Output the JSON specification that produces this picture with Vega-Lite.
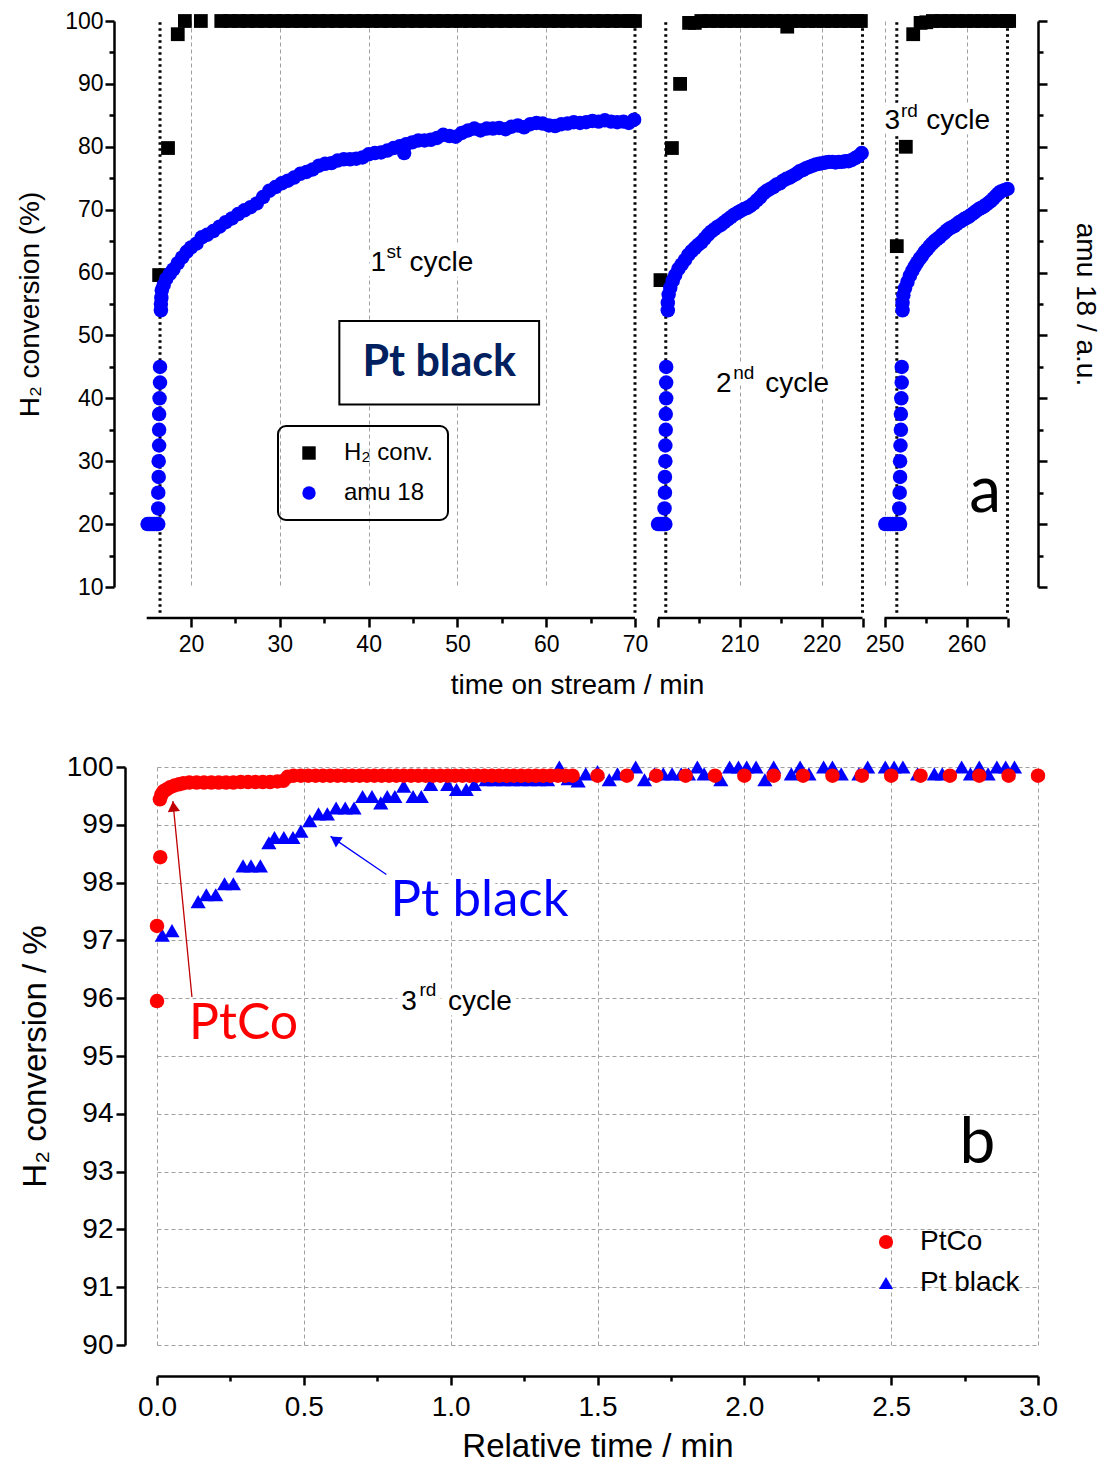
{
"$schema":"https://vega.github.io/schema/vega-lite/v6.json",
"background":"white",
"padding":{"left":16,"top":10,"right":4,"bottom":0},
"columns":1,
"spacing":54,
"resolve":{"scale":{"x":"independent","y":"independent","color":"independent","shape":"independent"},"legend":{"color":"independent","shape":"independent"}},
"config":{
 "view":{"stroke":null},
 "font":"Liberation Sans",
 "axis":{"domainColor":"#000","domainWidth":2.5,"tickColor":"#000","tickWidth":2.5,"gridColor":"#a0a0a0","gridDash":[4,3],"gridWidth":1,"labelColor":"#000","titleColor":"#000","labelFont":"Liberation Sans","titleFont":"Liberation Sans","titleFontWeight":"normal","labelOverlap":false,"labelFlush":false,"labelBound":false},
 "legend":{"labelFont":"Liberation Sans","labelColor":"#000","strokeWidth":2},
 "text":{"font":"Liberation Sans"}
},
"concat":[
{
 "width":881,"height":566,
 "resolve":{"axis":{"y":"independent"}},
 "layer":[
  {
   "data":{"values":[{"t":16.5,"v":5.9,"v2":100},{"t":70,"v":5.9,"v2":100},{"t":200.95,"v":5.9,"v2":100},{"t":225,"v":5.9,"v2":100},{"t":251.5,"v":5.9,"v2":100},{"t":265,"v":5.9,"v2":100}]},
   "mark":{"type":"rule","color":"#000","strokeWidth":3,"strokeDash":[2.5,3.5]},
   "encoding":{
    "x":{"field":"t","type":"quantitative","scale":{"domain":[15,70,200,225,250,265],"range":[-10.3,478,501,705.5,727.5,850.5],"nice":false,"zero":false}},
    "y":{"field":"v","type":"quantitative","scale":{"domain":[10,100],"nice":false,"zero":false},"axis":null},
    "y2":{"field":"v2"}
   }
  },
  {
   "data":{"values":[{"t":15,"t2":70,"v":5.07},{"t":200,"t2":225,"v":5.07},{"t":250,"t2":265,"v":5.07}]},
   "mark":{"type":"rule","color":"#000","strokeWidth":2.5},
   "encoding":{
    "x":{"field":"t","type":"quantitative","scale":{"domain":[15,70,200,225,250,265],"range":[-10.3,478,501,705.5,727.5,850.5],"nice":false,"zero":false}},
    "x2":{"field":"t2"},
    "y":{"field":"v","type":"quantitative","scale":{"domain":[10,100],"nice":false,"zero":false},
     "axis":{"orient":"right","values":[10,15,20,25,30,35,40,45,50,55,60,65,70,75,80,85,90,95,100],"labels":false,"grid":false,
      "tickSize":{"condition":{"test":"datum.value % 10 === 0","value":9},"value":5},
      "title":"amu 18 / a.u.","titleFontSize":28,"titlePadding":22}}
   }
  },
  {
   "data":{"values":[{"t":40.2,"v":60.3,"label":"1"},{"t":44.6,"v":60.3,"label":"cycle"},{"t":207.1,"v":41.0,"label":"2"},{"t":213.1,"v":41.0,"label":"cycle"},{"t":249.9,"v":82.8,"label":"3"},{"t":255.1,"v":82.8,"label":"cycle"}]},
   "mark":{"type":"text","fontSize":28,"color":"white","stroke":"white","strokeWidth":12,"strokeJoin":"round","align":"left","baseline":"alphabetic"},
   "encoding":{
    "x":{"field":"t","type":"quantitative","scale":{"domain":[15,70,200,225,250,265],"range":[-10.3,478,501,705.5,727.5,850.5],"nice":false,"zero":false}},
    "y":{"field":"v","type":"quantitative","scale":{"domain":[10,100],"nice":false,"zero":false},"axis":null},
    "text":{"field":"label"}
   }
  },
  {
   "data":{"values":[{"t":42.0,"v":62.3,"label":"st"},{"t":209.2,"v":43.0,"label":"nd"},{"t":252.0,"v":84.8,"label":"rd"}]},
   "mark":{"type":"text","fontSize":19,"color":"white","stroke":"white","strokeWidth":12,"strokeJoin":"round","align":"left","baseline":"alphabetic"},
   "encoding":{
    "x":{"field":"t","type":"quantitative","scale":{"domain":[15,70,200,225,250,265],"range":[-10.3,478,501,705.5,727.5,850.5],"nice":false,"zero":false}},
    "y":{"field":"v","type":"quantitative","scale":{"domain":[10,100],"nice":false,"zero":false},"axis":null},
    "text":{"field":"label"}
   }
  },
  {
   "data":{"values":[{"t":36.7,"t2":59.2,"v":52.3,"v2":39.0}]},
   "mark":{"type":"rect","fill":"white","stroke":"#000","strokeWidth":2},
   "encoding":{
    "x":{"field":"t","type":"quantitative","scale":{"domain":[15,70,200,225,250,265],"range":[-10.3,478,501,705.5,727.5,850.5],"nice":false,"zero":false}},
    "x2":{"field":"t2"},
    "y":{"field":"v","type":"quantitative","scale":{"domain":[10,100],"nice":false,"zero":false},"axis":null},
    "y2":{"field":"v2"}
   }
  },
  {
   "data":{"values":[
    {"t":16.4,"v":59.6},{"t":17.4,"v":79.8},{"t":18.5,"v":97.9},{"t":19.3,"v":100},{"t":21.1,"v":100},
    {"t":23.4,"v":100},{"t":24.4,"v":100},{"t":25.4,"v":100},{"t":26.4,"v":100},{"t":27.4,"v":100},{"t":28.4,"v":100},{"t":29.4,"v":100},{"t":30.4,"v":100},{"t":31.4,"v":100},{"t":32.4,"v":100},
    {"t":33.4,"v":100},{"t":34.4,"v":100},{"t":35.4,"v":100},{"t":36.4,"v":100},{"t":37.4,"v":100},{"t":38.4,"v":100},{"t":39.4,"v":100},{"t":40.4,"v":100},{"t":41.4,"v":100},{"t":42.4,"v":100},
    {"t":43.4,"v":100},{"t":44.4,"v":100},{"t":45.4,"v":100},{"t":46.4,"v":100},{"t":47.4,"v":100},{"t":48.4,"v":100},{"t":49.4,"v":100},{"t":50.4,"v":100},{"t":51.4,"v":100},{"t":52.4,"v":100},
    {"t":53.4,"v":100},{"t":54.4,"v":100},{"t":55.4,"v":100},{"t":56.4,"v":100},{"t":57.4,"v":100},{"t":58.4,"v":100},{"t":59.4,"v":100},{"t":60.4,"v":100},{"t":61.4,"v":100},{"t":62.4,"v":100},
    {"t":63.4,"v":100},{"t":64.4,"v":100},{"t":65.4,"v":100},{"t":66.4,"v":100},{"t":67.4,"v":100},{"t":68.4,"v":100},{"t":69.4,"v":100},{"t":70.0,"v":100},
    {"t":200.3,"v":58.8},{"t":201.7,"v":79.8},{"t":202.7,"v":90.0},{"t":203.8,"v":99.7},{"t":204.5,"v":99.7},{"t":205.3,"v":100},{"t":206.3,"v":100},{"t":207.3,"v":100},{"t":208.3,"v":100},{"t":209.3,"v":100},
    {"t":210.3,"v":100},{"t":211.3,"v":100},{"t":212.3,"v":100},{"t":213.3,"v":100},{"t":214.3,"v":100},{"t":215.3,"v":100},{"t":215.8,"v":99.1},{"t":216.3,"v":100},{"t":217.3,"v":100},{"t":218.3,"v":100},
    {"t":219.3,"v":100},{"t":220.3,"v":100},{"t":221.3,"v":100},{"t":222.3,"v":100},{"t":223.3,"v":100},{"t":224.3,"v":100},{"t":224.8,"v":100},
    {"t":251.5,"v":64.2},{"t":252.6,"v":80.0},{"t":253.5,"v":97.9},{"t":254.4,"v":99.7},{"t":255.1,"v":99.8},{"t":255.9,"v":100},{"t":256.9,"v":100},{"t":257.9,"v":100},{"t":258.9,"v":100},{"t":259.9,"v":100},
    {"t":260.9,"v":100},{"t":261.9,"v":100},{"t":262.9,"v":100},{"t":263.9,"v":100},{"t":264.9,"v":100},{"t":265.2,"v":100}
   ]},
   "mark":{"type":"point","filled":true,"size":190,"opacity":1,"strokeWidth":0},
   "encoding":{
    "x":{"field":"t","type":"quantitative","scale":{"domain":[15,70,200,225,250,265],"range":[-10.3,478,501,705.5,727.5,850.5],"nice":false,"zero":false},
     "axis":{"values":[20,25,30,35,40,45,50,55,60,65,70,200,205,210,215,220,225,250,255,260,265],
      "labelExpr":"indexof([20,30,40,50,60,70,210,220,250,260], datum.value) >= 0 ? datum.label : ''",
      "offset":31,"domain":false,"grid":true,
      "gridOpacity":{"condition":{"test":"indexof([20,30,40,50,60,210,220,250,260], datum.value) >= 0","value":1},"value":0},
      "tickSize":{"condition":{"test":"indexof([25,35,45,55,65,205,215,255], datum.value) >= 0","value":5},"value":9},
      "labelFontSize":23,"labelPadding":6,"title":"time on stream / min","titleFontSize":28,"titlePadding":15}},
    "y":{"field":"v","type":"quantitative","scale":{"domain":[10,100],"nice":false,"zero":false},
     "axis":{"orient":"left","offset":43,"values":[10,15,20,25,30,35,40,45,50,55,60,65,70,75,80,85,90,95,100],
      "labelExpr":"datum.value % 10 === 0 ? datum.label : ''",
      "gridOpacity":{"condition":{"test":"datum.value % 10 === 0","value":1},"value":0},
      "tickSize":{"condition":{"test":"datum.value % 10 === 0","value":9},"value":5},
      "labelFontSize":23,"labelPadding":2,"title":"H₂ conversion (%)","titleFontSize":28,"titlePadding":20}},
    "color":{"datum":"H₂ conv.","type":"nominal","scale":{"domain":["H₂ conv.","amu 18"],"range":["#000000","#0000ff"]},
     "legend":{"orient":"none","legendX":121,"legendY":405,"title":null,"labelFontSize":24,"symbolSize":180,"padding":15,"rowPadding":16,"labelOffset":23,"symbolOffset":4,"strokeColor":"#000","cornerRadius":8}},
    "shape":{"datum":"H₂ conv.","type":"nominal","scale":{"domain":["H₂ conv.","amu 18"],"range":["square","circle"]}}
   }
  },
  {
   "data":{"values":[
    {"t":15.1,"v":20},{"t":15.35,"v":20},{"t":15.6,"v":20},{"t":15.85,"v":20},{"t":16.1,"v":20},{"t":16.3,"v":20},
    {"t":16.3,"v":22.5},{"t":16.3,"v":25},{"t":16.35,"v":27.5},{"t":16.35,"v":30},{"t":16.4,"v":32.5},{"t":16.4,"v":35},{"t":16.4,"v":37.5},{"t":16.45,"v":40},{"t":16.5,"v":42.5},{"t":16.5,"v":45},
    {"t":16.6,"v":54.0},{"t":16.6,"v":55.0},{"t":16.65,"v":56.0},{"t":16.7,"v":57.2},{"t":16.9,"v":58.0},{"t":17.2,"v":59.0},{"t":17.6,"v":59.8},{"t":18.0,"v":60.5},{"t":18.5,"v":61.5},{"t":19.0,"v":62.4},
    {"t":19.5,"v":63.3},{"t":20.0,"v":64.0},{"t":20.6,"v":64.6},{"t":21.2,"v":65.6},{"t":21.8,"v":66.0},{"t":22.5,"v":66.6},{"t":23.2,"v":67.3},{"t":23.9,"v":68.0},{"t":24.6,"v":68.6},{"t":25.3,"v":69.3},
    {"t":26.0,"v":69.9},{"t":26.7,"v":70.4},{"t":27.4,"v":71.0},{"t":28.1,"v":72.0},{"t":28.8,"v":73.0},{"t":29.5,"v":73.6},{"t":30.2,"v":74.2},{"t":30.9,"v":74.6},{"t":31.6,"v":75.1},{"t":32.3,"v":75.7},
    {"t":33.0,"v":76.0},{"t":33.7,"v":76.4},{"t":34.4,"v":77.0},{"t":35.1,"v":77.3},{"t":35.8,"v":77.4},{"t":36.5,"v":77.8},{"t":37.2,"v":78.0},{"t":37.9,"v":78.0},{"t":38.6,"v":78.1},{"t":39.3,"v":78.3},
    {"t":40.0,"v":78.8},{"t":40.7,"v":79.0},{"t":41.4,"v":79.1},{"t":42.1,"v":79.4},{"t":42.8,"v":79.8},{"t":43.5,"v":80.1},{"t":44.0,"v":79.0},{"t":44.2,"v":80.4},{"t":44.9,"v":80.7},{"t":45.6,"v":81.0},{"t":46.3,"v":81.0},
    {"t":47.0,"v":81.1},{"t":47.7,"v":81.4},{"t":48.4,"v":81.9},{"t":49.1,"v":81.7},{"t":49.8,"v":81.6},{"t":50.5,"v":82.2},{"t":51.2,"v":82.6},{"t":51.9,"v":82.9},{"t":52.6,"v":82.6},{"t":53.3,"v":82.9},
    {"t":54.0,"v":82.9},{"t":54.7,"v":83.0},{"t":55.4,"v":82.8},{"t":56.1,"v":83.2},{"t":56.8,"v":83.4},{"t":57.5,"v":83.1},{"t":58.2,"v":83.6},{"t":58.9,"v":83.8},{"t":59.6,"v":83.7},{"t":60.3,"v":83.4},
    {"t":61.0,"v":83.3},{"t":61.7,"v":83.6},{"t":62.4,"v":83.7},{"t":63.1,"v":83.9},{"t":63.8,"v":83.8},{"t":64.5,"v":83.9},{"t":65.2,"v":84.1},{"t":65.9,"v":84.0},{"t":66.6,"v":84.2},{"t":67.3,"v":84.0},
    {"t":68.0,"v":83.9},{"t":68.7,"v":84.0},{"t":69.3,"v":83.8},{"t":69.9,"v":84.3},
    {"t":200.0,"v":20},{"t":200.25,"v":20},{"t":200.5,"v":20},{"t":200.75,"v":20},{"t":200.9,"v":20},
    {"t":200.8,"v":22.5},{"t":200.85,"v":25},{"t":200.85,"v":27.5},{"t":200.9,"v":30},{"t":200.9,"v":32.5},{"t":200.95,"v":35},{"t":200.95,"v":37.5},{"t":201.0,"v":40},{"t":201.0,"v":42.5},{"t":201.0,"v":45},
    {"t":201.2,"v":54.0},{"t":201.2,"v":55.2},{"t":201.3,"v":56.5},{"t":201.5,"v":57.6},{"t":201.8,"v":58.7},{"t":202.1,"v":59.6},{"t":202.5,"v":60.6},{"t":202.9,"v":61.3},{"t":203.3,"v":62.0},{"t":203.7,"v":62.8},
    {"t":204.1,"v":63.4},{"t":204.5,"v":63.9},{"t":204.9,"v":64.4},{"t":205.3,"v":64.8},{"t":205.7,"v":65.4},{"t":206.1,"v":66.0},{"t":206.5,"v":66.5},{"t":206.9,"v":66.9},{"t":207.3,"v":67.3},{"t":207.7,"v":67.6},
    {"t":208.1,"v":68.0},{"t":208.5,"v":68.4},{"t":208.9,"v":68.8},{"t":209.3,"v":69.2},{"t":209.7,"v":69.5},{"t":210.1,"v":69.8},{"t":210.5,"v":70.1},{"t":210.9,"v":70.3},{"t":211.3,"v":70.6},{"t":211.7,"v":71.0},
    {"t":212.1,"v":71.5},{"t":212.5,"v":72.0},{"t":212.9,"v":72.6},{"t":213.3,"v":73.0},{"t":213.7,"v":73.3},{"t":214.1,"v":73.6},{"t":214.5,"v":74.0},{"t":214.9,"v":74.2},{"t":215.3,"v":74.6},{"t":215.7,"v":74.9},
    {"t":216.1,"v":75.1},{"t":216.5,"v":75.4},{"t":216.9,"v":75.7},{"t":217.3,"v":76.1},{"t":217.7,"v":76.3},{"t":218.1,"v":76.6},{"t":218.5,"v":76.8},{"t":218.9,"v":77.0},{"t":219.3,"v":77.2},{"t":219.7,"v":77.3},
    {"t":220.1,"v":77.4},{"t":220.5,"v":77.5},{"t":220.9,"v":77.6},{"t":221.3,"v":77.6},{"t":221.7,"v":77.5},{"t":222.1,"v":77.6},{"t":222.5,"v":77.6},{"t":222.9,"v":77.7},{"t":223.3,"v":77.7},{"t":223.7,"v":77.9},
    {"t":224.1,"v":78.2},{"t":224.5,"v":78.5},{"t":224.9,"v":79.0},
    {"t":250.1,"v":20},{"t":250.4,"v":20},{"t":250.7,"v":20},{"t":251.0,"v":20},{"t":251.3,"v":20},{"t":251.6,"v":20},{"t":251.9,"v":20},
    {"t":251.8,"v":22.5},{"t":251.85,"v":25},{"t":251.9,"v":27.5},{"t":251.9,"v":30},{"t":251.95,"v":32.5},{"t":252.0,"v":35},{"t":252.0,"v":37.5},{"t":252.05,"v":40},{"t":252.1,"v":42.5},{"t":252.1,"v":45},
    {"t":252.2,"v":54.0},{"t":252.2,"v":55.2},{"t":252.3,"v":56.4},{"t":252.5,"v":57.5},{"t":252.8,"v":58.5},{"t":253.1,"v":59.5},{"t":253.4,"v":60.3},{"t":253.7,"v":61.0},{"t":254.0,"v":61.6},{"t":254.3,"v":62.2},
    {"t":254.6,"v":62.7},{"t":254.9,"v":63.3},{"t":255.2,"v":63.7},{"t":255.5,"v":64.2},{"t":255.8,"v":64.6},{"t":256.1,"v":65.0},{"t":256.4,"v":65.3},{"t":256.7,"v":65.6},{"t":257.0,"v":66.0},{"t":257.3,"v":66.3},
    {"t":257.6,"v":66.7},{"t":257.9,"v":67.0},{"t":258.2,"v":67.2},{"t":258.5,"v":67.4},{"t":258.8,"v":67.7},{"t":259.1,"v":68.0},{"t":259.4,"v":68.2},{"t":259.7,"v":68.5},{"t":260.0,"v":68.7},{"t":260.3,"v":68.9},
    {"t":260.6,"v":69.2},{"t":260.9,"v":69.5},{"t":261.2,"v":69.8},{"t":261.5,"v":70.1},{"t":261.8,"v":70.3},{"t":262.1,"v":70.5},{"t":262.4,"v":70.8},{"t":262.7,"v":71.1},{"t":263.0,"v":71.4},{"t":263.3,"v":71.8},
    {"t":263.6,"v":72.2},{"t":263.9,"v":72.6},{"t":264.2,"v":72.9},{"t":264.6,"v":73.1},{"t":265.0,"v":73.3}
   ]},
   "mark":{"type":"point","filled":true,"size":210,"opacity":1,"strokeWidth":0},
   "encoding":{
    "x":{"field":"t","type":"quantitative","scale":{"domain":[15,70,200,225,250,265],"range":[-10.3,478,501,705.5,727.5,850.5],"nice":false,"zero":false}},
    "y":{"field":"v","type":"quantitative","scale":{"domain":[10,100],"nice":false,"zero":false},"axis":null},
    "color":{"datum":"amu 18","type":"nominal"},
    "shape":{"datum":"amu 18","type":"nominal"}
   }
  },
  {
   "data":{"values":[{"t":47.95,"v":45.65,"label":"Pt black"}]},
   "mark":{"type":"text","font":"Lato","fontWeight":"bold","fontSize":43,"color":"#002060","align":"center","baseline":"middle"},
   "encoding":{
    "x":{"field":"t","type":"quantitative","scale":{"domain":[15,70,200,225,250,265],"range":[-10.3,478,501,705.5,727.5,850.5],"nice":false,"zero":false}},
    "y":{"field":"v","type":"quantitative","scale":{"domain":[10,100],"nice":false,"zero":false},"axis":null},
    "text":{"field":"label"}
   }
  },
  {
   "data":{"values":[{"t":40.2,"v":60.3,"label":"1"},{"t":44.6,"v":60.3,"label":"cycle"},{"t":207.1,"v":41.0,"label":"2"},{"t":213.1,"v":41.0,"label":"cycle"},{"t":249.9,"v":82.8,"label":"3"},{"t":255.1,"v":82.8,"label":"cycle"}]},
   "mark":{"type":"text","fontSize":28,"color":"#000","align":"left","baseline":"alphabetic"},
   "encoding":{
    "x":{"field":"t","type":"quantitative","scale":{"domain":[15,70,200,225,250,265],"range":[-10.3,478,501,705.5,727.5,850.5],"nice":false,"zero":false}},
    "y":{"field":"v","type":"quantitative","scale":{"domain":[10,100],"nice":false,"zero":false},"axis":null},
    "text":{"field":"label"}
   }
  },
  {
   "data":{"values":[{"t":42.0,"v":62.3,"label":"st"},{"t":209.2,"v":43.0,"label":"nd"},{"t":252.0,"v":84.8,"label":"rd"}]},
   "mark":{"type":"text","fontSize":19,"color":"#000","align":"left","baseline":"alphabetic"},
   "encoding":{
    "x":{"field":"t","type":"quantitative","scale":{"domain":[15,70,200,225,250,265],"range":[-10.3,478,501,705.5,727.5,850.5],"nice":false,"zero":false}},
    "y":{"field":"v","type":"quantitative","scale":{"domain":[10,100],"nice":false,"zero":false},"axis":null},
    "text":{"field":"label"}
   }
  },
  {
   "data":{"values":[{"t":260.35,"v":21.9,"label":"a"}]},
   "mark":{"type":"text","font":"Lato","fontSize":64,"color":"#000","align":"left","baseline":"alphabetic"},
   "encoding":{
    "x":{"field":"t","type":"quantitative","scale":{"domain":[15,70,200,225,250,265],"range":[-10.3,478,501,705.5,727.5,850.5],"nice":false,"zero":false}},
    "y":{"field":"v","type":"quantitative","scale":{"domain":[10,100],"nice":false,"zero":false},"axis":null},
    "text":{"field":"label"}
   }
  }
 ]
},
{
 "width":881,"height":578,
 "layer":[
  {
   "data":{"values":[{"t":0.832,"v":95.79,"label":"3"},{"t":0.991,"v":95.79,"label":"cycle"},{"t":0.795,"v":97.43,"label":"Pt black","big":true}]},
   "transform":[{"filter":"!datum.big"}],
   "mark":{"type":"text","fontSize":28,"color":"white","stroke":"white","strokeWidth":12,"strokeJoin":"round","align":"left","baseline":"alphabetic"},
   "encoding":{
    "x":{"field":"t","type":"quantitative","scale":{"domain":[0,3],"nice":false,"zero":false}},
    "y":{"field":"v","type":"quantitative","scale":{"domain":[90,100],"nice":false,"zero":false}},
    "text":{"field":"label"}
   }
  },
  {
   "data":{"values":[{"t":0.894,"v":96.03,"label":"rd"}]},
   "mark":{"type":"text","fontSize":19,"color":"white","stroke":"white","strokeWidth":12,"strokeJoin":"round","align":"left","baseline":"alphabetic"},
   "encoding":{
    "x":{"field":"t","type":"quantitative","scale":{"domain":[0,3],"nice":false,"zero":false}},
    "y":{"field":"v","type":"quantitative","scale":{"domain":[90,100],"nice":false,"zero":false}},
    "text":{"field":"label"}
   }
  },
  {
   "data":{"values":[{"t":0.795,"v":97.43,"label":"Pt black"}]},
   "mark":{"type":"text","font":"Lato","fontSize":51,"color":"white","stroke":"white","strokeWidth":12,"strokeJoin":"round","align":"left","baseline":"alphabetic"},
   "encoding":{
    "x":{"field":"t","type":"quantitative","scale":{"domain":[0,3],"nice":false,"zero":false}},
    "y":{"field":"v","type":"quantitative","scale":{"domain":[90,100],"nice":false,"zero":false}},
    "text":{"field":"label"}
   }
  },
  {
   "data":{"values":[
    {"t":0.018,"v":97.09},{"t":0.051,"v":97.17},{"t":0.14,"v":97.67},{"t":0.168,"v":97.79},{"t":0.2,"v":97.79},{"t":0.23,"v":97.98},{"t":0.26,"v":97.98},{"t":0.293,"v":98.29},{"t":0.32,"v":98.29},{"t":0.352,"v":98.29},
    {"t":0.381,"v":98.69},{"t":0.40,"v":98.78},{"t":0.432,"v":98.78},{"t":0.463,"v":98.78},{"t":0.49,"v":98.89},{"t":0.52,"v":99.07},{"t":0.55,"v":99.19},{"t":0.58,"v":99.19},{"t":0.61,"v":99.29},{"t":0.641,"v":99.29},
    {"t":0.671,"v":99.29},{"t":0.70,"v":99.49},{"t":0.732,"v":99.49},{"t":0.762,"v":99.38},{"t":0.784,"v":99.49},{"t":0.81,"v":99.49},{"t":0.84,"v":99.67},{"t":0.872,"v":99.49},{"t":0.90,"v":99.49},{"t":0.932,"v":99.70},
    {"t":0.99,"v":99.70},{"t":1.02,"v":99.61},{"t":1.053,"v":99.61},{"t":1.08,"v":99.70},{"t":1.12,"v":99.78},{"t":1.15,"v":99.78},{"t":1.18,"v":99.78},{"t":1.21,"v":99.78},{"t":1.24,"v":99.78},{"t":1.27,"v":99.78},
    {"t":1.30,"v":99.78},{"t":1.33,"v":99.78},{"t":1.37,"v":100.0},{"t":1.40,"v":99.80},{"t":1.434,"v":99.76},{"t":1.46,"v":99.88},{"t":1.50,"v":99.92},{"t":1.54,"v":99.78},{"t":1.568,"v":99.88},{"t":1.63,"v":100},
    {"t":1.66,"v":99.78},{"t":1.694,"v":99.88},{"t":1.724,"v":99.88},{"t":1.754,"v":99.88},{"t":1.785,"v":99.88},{"t":1.81,"v":99.88},{"t":1.84,"v":100},{"t":1.863,"v":99.88},{"t":1.92,"v":99.78},{"t":1.95,"v":100},
    {"t":1.98,"v":100},{"t":2.008,"v":100},{"t":2.04,"v":100},{"t":2.07,"v":99.78},{"t":2.10,"v":100},{"t":2.16,"v":99.88},{"t":2.19,"v":100},{"t":2.22,"v":99.88},{"t":2.27,"v":100},{"t":2.30,"v":100},
    {"t":2.33,"v":99.88},{"t":2.39,"v":99.88},{"t":2.42,"v":100},{"t":2.48,"v":100},{"t":2.51,"v":100},{"t":2.54,"v":100},{"t":2.59,"v":99.88},{"t":2.647,"v":99.88},{"t":2.674,"v":99.88},{"t":2.74,"v":100},
    {"t":2.77,"v":99.88},{"t":2.80,"v":100},{"t":2.83,"v":99.88},{"t":2.86,"v":100},{"t":2.89,"v":100},{"t":2.92,"v":100}
   ]},
   "mark":{"type":"point","filled":true,"size":230,"opacity":1,"strokeWidth":0},
   "encoding":{
    "x":{"field":"t","type":"quantitative","scale":{"domain":[0,3],"nice":false,"zero":false},
     "axis":{"values":[0,0.25,0.5,0.75,1,1.25,1.5,1.75,2,2.25,2.5,2.75,3],
      "labelExpr":"datum.value % 0.5 === 0 ? format(datum.value, '.1f') : ''",
      "offset":31,"grid":true,
      "gridOpacity":{"condition":{"test":"datum.value % 0.5 === 0","value":1},"value":0},
      "tickSize":{"condition":{"test":"datum.value % 0.5 === 0","value":9},"value":5},
      "labelFontSize":28,"labelPadding":8,"title":"Relative time / min","titleFontSize":33,"titlePadding":9}},
    "y":{"field":"v","type":"quantitative","scale":{"domain":[90,100],"nice":false,"zero":false},
     "axis":{"values":[90,90.5,91,91.5,92,92.5,93,93.5,94,94.5,95,95.5,96,96.5,97,97.5,98,98.5,99,99.5,100],
      "labelExpr":"datum.value % 1 === 0 ? format(datum.value, 'd') : ''",
      "offset":32,"grid":true,
      "gridOpacity":{"condition":{"test":"datum.value % 1 === 0","value":1},"value":0},
      "tickSize":{"condition":{"test":"datum.value % 1 === 0","value":9},"value":5},
      "labelFontSize":28,"labelPadding":3,"title":"H₂ conversion / %","titleFontSize":33,"titlePadding":14}},
    "color":{"datum":"Pt black","type":"nominal","scale":{"domain":["PtCo","Pt black"],"range":["#ff0000","#0000ff"]},
     "legend":{"orient":"none","legendX":715,"legendY":461,"title":null,"labelFontSize":28,"symbolSize":200,"padding":0,"rowPadding":13,"labelOffset":20,"symbolOffset":0}},
    "shape":{"datum":"Pt black","type":"nominal","scale":{"domain":["PtCo","Pt black"],"range":["circle","triangle-up"]}}
   }
  },
  {
   "data":{"values":[
    {"t":0.0,"v":95.95},{"t":0.0,"v":97.25},{"t":0.011,"v":98.44},{"t":0.01,"v":99.44},{"t":0.015,"v":99.52},{"t":0.022,"v":99.58},{"t":0.032,"v":99.61},{"t":0.045,"v":99.65},{"t":0.06,"v":99.68},{"t":0.075,"v":99.70},
    {"t":0.09,"v":99.72},{"t":0.11,"v":99.73},{"t":0.135,"v":99.73},{"t":0.16,"v":99.73},{"t":0.185,"v":99.73},{"t":0.21,"v":99.73},{"t":0.235,"v":99.73},{"t":0.26,"v":99.73},{"t":0.285,"v":99.74},{"t":0.31,"v":99.74},
    {"t":0.335,"v":99.74},{"t":0.36,"v":99.74},{"t":0.385,"v":99.74},{"t":0.41,"v":99.75},{"t":0.43,"v":99.76},{"t":0.445,"v":99.83},{"t":0.465,"v":99.85},{"t":0.49,"v":99.85},{"t":0.515,"v":99.85},{"t":0.54,"v":99.85},
    {"t":0.565,"v":99.85},{"t":0.59,"v":99.85},{"t":0.615,"v":99.85},{"t":0.64,"v":99.85},{"t":0.665,"v":99.85},{"t":0.69,"v":99.85},{"t":0.715,"v":99.85},{"t":0.74,"v":99.85},{"t":0.765,"v":99.85},{"t":0.79,"v":99.85},
    {"t":0.815,"v":99.85},{"t":0.84,"v":99.85},{"t":0.865,"v":99.85},{"t":0.89,"v":99.85},{"t":0.915,"v":99.85},{"t":0.94,"v":99.85},{"t":0.965,"v":99.85},{"t":0.99,"v":99.85},{"t":1.015,"v":99.85},{"t":1.04,"v":99.85},
    {"t":1.065,"v":99.85},{"t":1.09,"v":99.85},{"t":1.115,"v":99.85},{"t":1.14,"v":99.85},{"t":1.165,"v":99.85},{"t":1.19,"v":99.85},{"t":1.215,"v":99.85},{"t":1.24,"v":99.85},{"t":1.265,"v":99.85},{"t":1.29,"v":99.85},
    {"t":1.315,"v":99.85},{"t":1.34,"v":99.85},{"t":1.365,"v":99.85},{"t":1.39,"v":99.85},{"t":1.415,"v":99.85},
    {"t":1.5,"v":99.85},{"t":1.6,"v":99.85},{"t":1.7,"v":99.85},{"t":1.8,"v":99.85},{"t":1.9,"v":99.85},{"t":2.0,"v":99.85},{"t":2.1,"v":99.85},{"t":2.2,"v":99.85},{"t":2.3,"v":99.85},{"t":2.4,"v":99.85},
    {"t":2.5,"v":99.85},{"t":2.6,"v":99.85},{"t":2.7,"v":99.85},{"t":2.8,"v":99.85},{"t":2.9,"v":99.85},{"t":3.0,"v":99.85}
   ]},
   "mark":{"type":"point","filled":true,"size":210,"opacity":1,"strokeWidth":0},
   "encoding":{
    "x":{"field":"t","type":"quantitative","scale":{"domain":[0,3],"nice":false,"zero":false}},
    "y":{"field":"v","type":"quantitative","scale":{"domain":[90,100],"nice":false,"zero":false}},
    "color":{"datum":"PtCo","type":"nominal"},
    "shape":{"datum":"PtCo","type":"nominal"}
   }
  },
  {
   "data":{"values":[{"t":0.119,"v":96.02,"t2":0.054,"v2":99.41}]},
   "mark":{"type":"rule","color":"#c00000","strokeWidth":1.3},
   "encoding":{
    "x":{"field":"t","type":"quantitative","scale":{"domain":[0,3],"nice":false,"zero":false}},
    "y":{"field":"v","type":"quantitative","scale":{"domain":[90,100],"nice":false,"zero":false}},
    "x2":{"field":"t2"},"y2":{"field":"v2"}
   }
  },
  {
   "data":{"values":[{"t":0.0558,"v":99.318}]},
   "mark":{"type":"point","shape":"triangle-up","filled":true,"size":150,"color":"#c00000","opacity":1,"angle":-5.5,"strokeWidth":0},
   "encoding":{
    "x":{"field":"t","type":"quantitative","scale":{"domain":[0,3],"nice":false,"zero":false}},
    "y":{"field":"v","type":"quantitative","scale":{"domain":[90,100],"nice":false,"zero":false}}
   }
  },
  {
   "data":{"values":[{"t":0.781,"v":98.14,"t2":0.591,"v2":98.80}]},
   "mark":{"type":"rule","color":"#0000ff","strokeWidth":1.3},
   "encoding":{
    "x":{"field":"t","type":"quantitative","scale":{"domain":[0,3],"nice":false,"zero":false}},
    "y":{"field":"v","type":"quantitative","scale":{"domain":[90,100],"nice":false,"zero":false}},
    "x2":{"field":"t2"},"y2":{"field":"v2"}
   }
  },
  {
   "data":{"values":[{"t":0.606,"v":98.747}]},
   "mark":{"type":"point","shape":"triangle-up","filled":true,"size":150,"color":"#0000ff","opacity":1,"angle":-55.6,"strokeWidth":0},
   "encoding":{
    "x":{"field":"t","type":"quantitative","scale":{"domain":[0,3],"nice":false,"zero":false}},
    "y":{"field":"v","type":"quantitative","scale":{"domain":[90,100],"nice":false,"zero":false}}
   }
  },
  {
   "data":{"values":[{"t":0.795,"v":97.43,"label":"Pt black"}]},
   "mark":{"type":"text","font":"Lato","fontSize":51,"color":"#0000ff","align":"left","baseline":"alphabetic"},
   "encoding":{
    "x":{"field":"t","type":"quantitative","scale":{"domain":[0,3],"nice":false,"zero":false}},
    "y":{"field":"v","type":"quantitative","scale":{"domain":[90,100],"nice":false,"zero":false}},
    "text":{"field":"label"}
   }
  },
  {
   "data":{"values":[{"t":0.109,"v":95.30,"label":"PtCo"}]},
   "mark":{"type":"text","font":"Lato","fontSize":50,"color":"#ff0000","align":"left","baseline":"alphabetic"},
   "encoding":{
    "x":{"field":"t","type":"quantitative","scale":{"domain":[0,3],"nice":false,"zero":false}},
    "y":{"field":"v","type":"quantitative","scale":{"domain":[90,100],"nice":false,"zero":false}},
    "text":{"field":"label"}
   }
  },
  {
   "data":{"values":[{"t":0.832,"v":95.79,"label":"3"},{"t":0.991,"v":95.79,"label":"cycle"}]},
   "mark":{"type":"text","fontSize":28,"color":"#000","align":"left","baseline":"alphabetic"},
   "encoding":{
    "x":{"field":"t","type":"quantitative","scale":{"domain":[0,3],"nice":false,"zero":false}},
    "y":{"field":"v","type":"quantitative","scale":{"domain":[90,100],"nice":false,"zero":false}},
    "text":{"field":"label"}
   }
  },
  {
   "data":{"values":[{"t":0.894,"v":96.03,"label":"rd"}]},
   "mark":{"type":"text","fontSize":19,"color":"#000","align":"left","baseline":"alphabetic"},
   "encoding":{
    "x":{"field":"t","type":"quantitative","scale":{"domain":[0,3],"nice":false,"zero":false}},
    "y":{"field":"v","type":"quantitative","scale":{"domain":[90,100],"nice":false,"zero":false}},
    "text":{"field":"label"}
   }
  },
  {
   "data":{"values":[{"t":2.733,"v":93.15,"label":"b"}]},
   "mark":{"type":"text","font":"Lato","fontSize":64,"color":"#000","align":"left","baseline":"alphabetic"},
   "encoding":{
    "x":{"field":"t","type":"quantitative","scale":{"domain":[0,3],"nice":false,"zero":false}},
    "y":{"field":"v","type":"quantitative","scale":{"domain":[90,100],"nice":false,"zero":false}},
    "text":{"field":"label"}
   }
  }
 ]
}
]
}
